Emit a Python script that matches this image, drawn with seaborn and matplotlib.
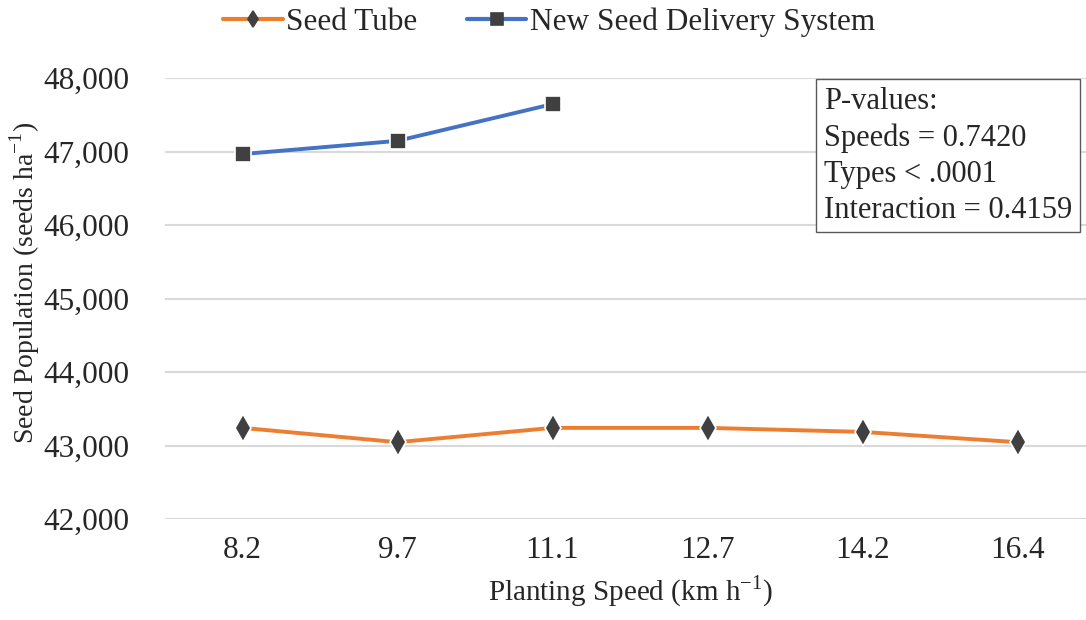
import numpy as np
import matplotlib
matplotlib.use("Agg")
import matplotlib.pyplot as plt
import seaborn as sns
import pandas as pd

speeds = ["8.2", "9.7", "11.1", "12.7", "14.2", "16.4"]
seed_tube = [43240, 43045, 43240, 43240, 43185, 43045]
new_system = [46965, 47145, 47645]
yticks = [42000, 43000, 44000, 45000, 46000, 47000, 48000]

df = pd.concat([
    pd.DataFrame({"speed": speeds, "pop": seed_tube, "type": "Seed Tube"}),
    pd.DataFrame({"speed": speeds[:len(new_system)], "pop": new_system,
                  "type": "New Seed Delivery System"}),
])

sns.set_style("white")
plt.rcParams["font.family"] = ["Liberation Serif", "DejaVu Serif"]
plt.rcParams["mathtext.fontset"] = "custom"
plt.rcParams["mathtext.rm"] = "Liberation Serif"

fig = plt.figure(figsize=(10.86, 6.2), dpi=100)
ax = fig.add_axes([165 / 1086, 1 - 519 / 620, 930 / 1086, 441 / 620])

sns.lineplot(
    data=df, x="speed", y="pop", hue="type", style="type",
    palette={"Seed Tube": "#ED7D31", "New Seed Delivery System": "#4472C4"},
    markers={"Seed Tube": "D", "New Seed Delivery System": "s"},
    dashes=False, sort=False, linewidth=2.8, ax=ax,
    markersize=11, markerfacecolor="#404040", markeredgecolor="white",
    markeredgewidth=1.2, zorder=3,
)
# thinner diamonds like the original
for line in ax.lines:
    if line.get_marker() == "D":
        line.set_marker("d")
        line.set_markersize(14)

ax.set_xlim(-0.5, 5.5)
ax.set_ylim(42000, 48000)
ax.set_yticks(yticks)
ax.yaxis.set_major_formatter(matplotlib.ticker.StrMethodFormatter("{x:,.0f}"))
ax.grid(axis="y", color="#d9d9d9", linewidth=1.5)
ax.set_axisbelow(True)
for s in ax.spines.values():
    s.set_visible(False)
ax.tick_params(axis="both", length=0, labelsize=22.5, pad=12)
ax.tick_params(axis="y", pad=26)

ax.set_xlabel("Planting Speed (km h$^{-1}$)", fontsize=21, labelpad=6)
ax.set_ylabel("Seed Population (seeds ha$^{-1}$)", fontsize=20)
ax.yaxis.set_label_coords(42 / 1086, 0.5 * (1 - 80 / 620 + 1 - 485 / 620),
                          transform=fig.transFigure)

handles, labels = ax.get_legend_handles_labels()
for h, lab in zip(handles, labels):
    h.set_markerfacecolor("#404040")
    h.set_markeredgecolor("#404040")
    h.set_markersize(8 if lab == "Seed Tube" else 9)
    h.set_linewidth(3)
leg = ax.legend(handles, labels, loc="center", ncol=2, frameon=False,
                fontsize=22.5, handlelength=1.9, handletextpad=0.1,
                columnspacing=1.6)
leg.set_bbox_to_anchor((549 / 1086, 1 - 22 / 620), transform=fig.transFigure)

fig.text(824 / 1086, 1 - 87 / 620,
         "P-values:\nSpeeds = 0.7420\nTypes < .0001\nInteraction = 0.4159",
         ha="left", va="top", fontsize=22, linespacing=1.32,
         bbox=dict(boxstyle="square,pad=0.25", facecolor="white",
                   edgecolor="#595959", linewidth=1.0))

fig.savefig("out.png", dpi=100)
